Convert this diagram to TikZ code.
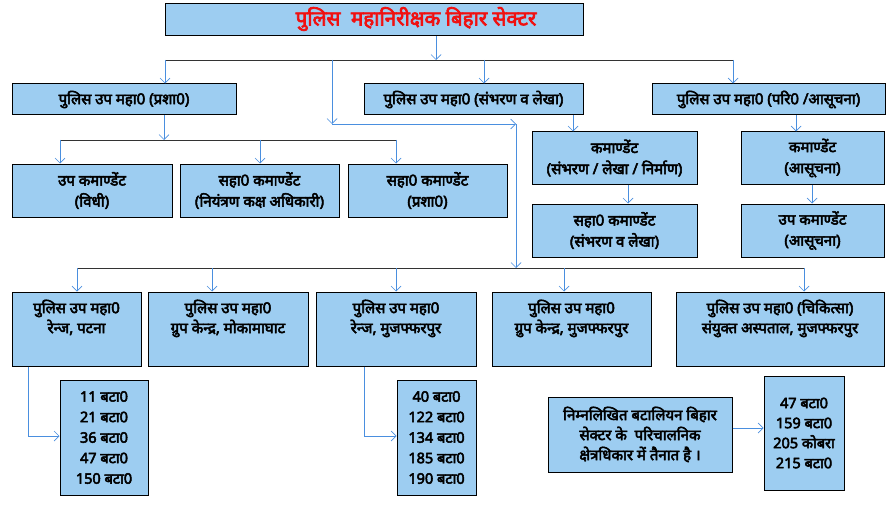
\documentclass[tikz,border=0pt]{standalone}
\usepackage{fontspec}
\newfontfamily\hindi[Script=Devanagari, BoldFont={Noto Sans}, BoldFeatures={FakeBold=3.5}]{Noto Sans}
\usetikzlibrary{arrows.meta}
\definecolor{boxblue}{HTML}{9DCDF1}
\definecolor{linkblue}{HTML}{4A8FDF}
\definecolor{titlered}{HTML}{F01010}

\begin{document}
\begin{tikzpicture}[x=1pt,y=-1pt,
  box/.style={draw=black, fill=boxblue, line width=1pt, inner sep=0pt, align=center,
    font=\hindi\bfseries\fontsize{15}{21}\selectfont},
  rowtxt/.style={anchor=north, inner sep=0pt, yshift=-8, align=center,
    font=\hindi\bfseries\fontsize{15}{20}\selectfont},
  arr/.style={draw=linkblue, line width=0.7pt, -{Straight Barb[length=5pt,width=10pt]}},
  bus/.style={draw=black!80, line width=0.8pt}]
  % page
  \fill[white] (0,0) rectangle (891,516);
  \useasboundingbox (0,0) rectangle (891,516);

  % top box
  \node[box, minimum width=418, minimum height=32] (ig) at (374,20) {};
  \node[font=\hindi\bfseries\fontsize{20.5}{24}\selectfont, text=titlered] (igt) at (416,19) {पुलिस\ \ महानिरीक्षक बिहार सेक्टर};

  % second row
  \node[box, minimum width=224, minimum height=31] (dig1) at (124,99.5) {पुलिस उप महा0 (प्रशा0)};
  \node[box, minimum width=219, minimum height=31] (dig2) at (473.5,99.5) {पुलिस उप महा0 (संभरण व लेखा)};
  \node[box, minimum width=233, minimum height=31] (dig3) at (768.5,99.5) {पुलिस उप महा0 (परि0 /आसूचना)};

  % under prasha0
  \node[box, minimum width=160, minimum height=53] (upk) at (92,190.5) {उप कमाण्डेंट\\(विधी)};
  \node[box, minimum width=159, minimum height=53] (shk1) at (259.5,190.5) {सहा0 कमाण्डेंट\\(नियंत्रण कक्ष अधिकारी)};
  \node[box, minimum width=159, minimum height=53] (shk2) at (427.5,190.5) {सहा0 कमाण्डेंट\\(प्रशा0)};

  % right side
  \node[box, minimum width=165, minimum height=52] (kmd1) at (614.5,158) {कमाण्डेंट\\(संभरण / लेखा / निर्माण)};
  \node[box, minimum width=143, minimum height=52] (kmd2) at (812.5,158) {कमाण्डेंट\\(आसूचना)};
  \node[box, minimum width=165, minimum height=53] (shk3) at (614.5,230.5) {सहा0 कमाण्डेंट\\(संभरण व लेखा)};
  \node[box, minimum width=143, minimum height=53] (upk2) at (812.5,230.5) {उप कमाण्डेंट\\(आसूचना)};

  % third row
  \node[box, minimum width=129, minimum height=74, label={[rowtxt]north:{पुलिस उप महा0\\रेन्ज, पटना}}] (rng1) at (76.5,329) {};
  \node[box, minimum width=160, minimum height=74, label={[rowtxt]north:{पुलिस उप महा0\\ग्रुप केन्द्र, मोकामाघाट}}] (gc1) at (228,329) {};
  \node[box, minimum width=160, minimum height=74, label={[rowtxt]north:{पुलिस उप महा0\\रेन्ज, मुजफ्फरपुर}}] (rng2) at (396,329) {};
  \node[box, minimum width=159, minimum height=74, label={[rowtxt]north:{पुलिस उप महा0\\ग्रुप केन्द्र, मुजफ्फरपुर}}] (gc2) at (571.5,329) {};
  \node[box, minimum width=208, minimum height=74, label={[rowtxt]north:{पुलिस उप महा0 (चिकित्सा)\\संयुक्त अस्पताल, मुजफ्फरपुर}}] (hosp) at (780,329) {};

  % battalions
  \node[box, minimum width=88, minimum height=115, font=\hindi\bfseries\fontsize{14.5}{20.5}\selectfont] (bt1) at (104,437.5) {11 बटा0\\21 बटा0\\36 बटा0\\47 बटा0\\150 बटा0};
  \node[box, minimum width=79, minimum height=115, font=\hindi\bfseries\fontsize{14.5}{20.5}\selectfont] (bt2) at (436.5,437.5) {40 बटा0\\122 बटा0\\134 बटा0\\185 बटा0\\190 बटा0};
  \node[box, minimum width=184, minimum height=75, font=\hindi\bfseries\fontsize{15}{20}\selectfont] (note) at (640,434.5) {निम्नलिखित बटालियन बिहार\\सेक्टर के\ \ परिचालनिक\\क्षेत्रधिकार में तैनात है ।};
  \node[box, minimum width=80, minimum height=114, font=\hindi\bfseries\fontsize{14.5}{20}\selectfont] (bt3) at (804,433) {47 बटा0\\159 बटा0\\205 कोबरा\\215 बटा0};

  % bus lines
  \coordinate (t0) at (436,60);
  \coordinate (t1) at (165,60);
  \coordinate (t2) at (484,60);
  \coordinate (t3) at (733,60);
  \coordinate (t4) at (332,60);
  \coordinate (c1) at (332,124);
  \coordinate (c2) at (516,124);
  \coordinate (m0) at (164,140);
  \coordinate (m1) at (60,140);
  \coordinate (m2) at (260,140);
  \coordinate (m3) at (396,140);
  \coordinate (r0) at (516,268);
  \coordinate (r1) at (77,268);
  \coordinate (r2) at (212,268);
  \coordinate (r3) at (396,268);
  \coordinate (r4) at (564,268);
  \coordinate (r5) at (804,268);
  \coordinate (l1) at (28,436);
  \coordinate (l2) at (364,436);

  \draw[bus] (t1) -- (t3);
  \draw[bus] (m1) -- (m3);
  \draw[bus] (r1) -- (r5);

  % top to second row
  \draw[arr] (ig.south -| t0) -- (t0);
  \draw[arr] (t1) -- (t1 |- dig1.north);
  \draw[arr] (t2) -- (t2 |- dig2.north);
  \draw[arr] (t3) -- (t3 |- dig3.north);

  % long link down to third row
  \draw[arr] (t4) -- (c1);
  \draw[arr] (c1) -- (c2);
  \draw[arr] (c2) -- (r0);

  % prasha0 branch
  \draw[arr] (dig1.south -| m0) -- (m0);
  \draw[arr] (m1) -- (m1 |- upk.north);
  \draw[arr] (m2) -- (m2 |- shk1.north);
  \draw[arr] (m3) -- (m3 |- shk2.north);

  % right branches
  \draw[arr] ([xshift=99.5]dig2.south) -- ([xshift=99.5]dig2.south |- kmd1.north);
  \draw[arr] ([xshift=27.5]dig3.south) -- ([xshift=27.5]dig3.south |- kmd2.north);
  \draw[arr] ([xshift=13.5]kmd1.south) -- ([xshift=13.5]shk3.north);
  \draw[arr] ([xshift=-0.5]kmd2.south) -- ([xshift=-0.5]upk2.north);

  % third row
  \draw[arr] (r1) -- (r1 |- rng1.north);
  \draw[arr] (r2) -- (r2 |- gc1.north);
  \draw[arr] (r3) -- (r3 |- rng2.north);
  \draw[arr] (r4) -- (r4 |- gc2.north);
  \draw[arr] (r5) -- (r5 |- hosp.north);

  % battalions
  \draw[arr] (rng1.south -| l1) |- (l1 -| bt1.west);
  \draw[arr] (rng2.south -| l2) |- (l2 -| bt2.west);
  \draw[arr] (note.east |- 0,428) -- (bt3.west |- 0,428);
\end{tikzpicture}
\end{document}
